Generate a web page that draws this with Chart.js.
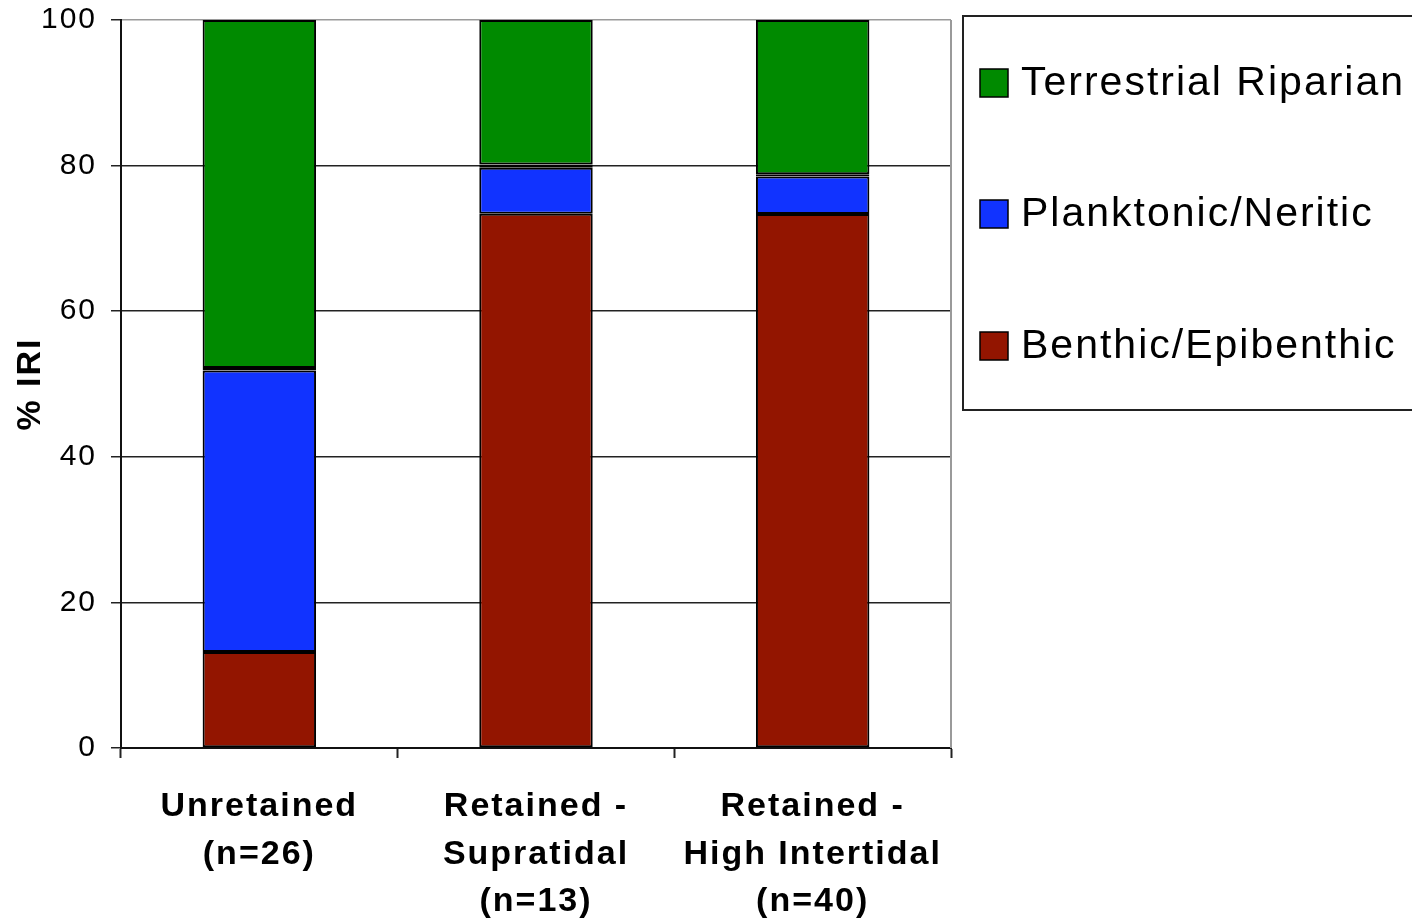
<!DOCTYPE html>
<html>
<head>
<meta charset="utf-8">
<script src="https://cdn.jsdelivr.net/npm/chart.js@4/dist/chart.umd.min.js"></script>
<style>
  html, body { margin: 0; padding: 0; background: #ffffff; }
  #wrap { width: 1412px; height: 920px; position: relative; }
</style>
</head>
<body>
<div id="wrap"><canvas id="chart" width="1412" height="920"></canvas></div>
<script>
// Habitat groups (multi-line category labels)
const categories = [
  ['Unretained', '(n=26)'],
  ['Retained -', 'Supratidal', '(n=13)'],
  ['Retained -', 'High Intertidal', '(n=40)']
];

// % IRI by prey origin, stacked bottom to top
const benthic     = [13.2, 73.4, 73.35];
const planktonic  = [38.65, 6.3, 5.15];
const minorGroup  = [0.35, 0.45, 0.3];
const terrestrial = [47.8, 19.85, 21.2];

const yTicks = [0, 20, 40, 60, 80, 100];

const FONT = "'Liberation Sans', Arial, sans-serif";

// Slightly spaced lettering for all chart text
const spacingPlugin = {
  id: 'letterSpacing',
  beforeDraw(chart) {
    chart.ctx.letterSpacing = '2px';
  }
};

// Boxed legend at the right, plus the light frame on the right edge of the plot
const framePlugin = {
  id: 'frameAndLegend',
  afterDraw(chart) {
    const { ctx, chartArea } = chart;
    ctx.save();
    ctx.strokeStyle = '#9a9a9a';
    ctx.lineWidth = 2;
    ctx.beginPath();
    ctx.moveTo(chartArea.right, chartArea.top);
    ctx.lineTo(chartArea.right, chartArea.bottom);
    ctx.stroke();

    // legend frame
    ctx.strokeStyle = '#222';
    ctx.lineWidth = 2;
    ctx.strokeRect(963, 16, 470, 394);

    const entries = chart.data.datasets.filter(d => d.inLegend).slice().reverse();
    const rowY = [83, 214, 346];
    ctx.letterSpacing = '2px';
    ctx.font = '41px ' + FONT;
    ctx.textBaseline = 'middle';
    ctx.textAlign = 'left';
    entries.forEach((d, i) => {
      const y = rowY[i];
      ctx.fillStyle = d.backgroundColor;
      ctx.fillRect(980, y - 14, 28, 28);
      ctx.strokeStyle = '#000';
      ctx.lineWidth = 1.5;
      ctx.strokeRect(980, y - 14, 28, 28);
      ctx.fillStyle = '#000';
      ctx.fillText(d.label, 1021, y + 1);
    });
    ctx.restore();
  }
};

const barStyle = {
  borderColor: '#000',
  borderWidth: 2,
  borderSkipped: false,
  barPercentage: 0.82,
  categoryPercentage: 0.5
};

new Chart(document.getElementById('chart'), {
  type: 'bar',
  data: {
    labels: categories,
    datasets: [
      Object.assign({ label: 'Benthic/Epibenthic', data: benthic, backgroundColor: '#931500', inLegend: true }, barStyle),
      Object.assign({ label: 'Planktonic/Neritic', data: planktonic, backgroundColor: '#1133ff', inLegend: true }, barStyle),
      Object.assign({ label: 'Unclassified', data: minorGroup, backgroundColor: '#11cc11', inLegend: false }, barStyle),
      Object.assign({ label: 'Terrestrial Riparian', data: terrestrial, backgroundColor: '#008a00', inLegend: true }, barStyle)
    ]
  },
  options: {
    responsive: false,
    animation: false,
    layout: { padding: { left: 0, top: 20, right: 461, bottom: 0 } },
    plugins: {
      legend: { display: false },
      tooltip: { enabled: false }
    },
    scales: {
      x: {
        stacked: true,
        offset: true,
        grid: {
          offset: true,
          drawOnChartArea: false,
          drawTicks: true,
          tickLength: 10,
          tickColor: '#222',
          tickWidth: 2
        },
        border: { color: '#111', width: 2 },
        ticks: {
          color: '#000',
          font: { family: FONT, size: 34, weight: 'bold', lineHeight: 1.4 },
          padding: 25,
          maxRotation: 0,
          autoSkip: false
        },
        afterFit(scale) {
          scale.height = 172;
          scale.paddingLeft = 0;
          scale.paddingRight = 0;
        }
      },
      y: {
        stacked: true,
        min: 0,
        max: 100,
        afterBuildTicks(scale) { scale.ticks = yTicks.map(v => ({ value: v })); },
        grid: {
          color: ctx => (ctx.tick && ctx.tick.value === 100 ? '#9a9a9a' : '#222'),
          lineWidth: 1.5,
          tickLength: 10,
          tickColor: '#222',
          tickWidth: 1.5
        },
        border: { color: '#111', width: 2 },
        ticks: {
          color: '#000',
          font: { family: FONT, size: 30 },
          padding: 14
        },
        title: {
          display: true,
          text: '% IRI',
          color: '#000',
          font: { family: FONT, size: 34, weight: 'bold' },
          padding: { top: 10, bottom: 0 }
        },
        afterFit(scale) {
          scale.width = 121;
          scale.paddingTop = 0;
          scale.paddingBottom = 0;
        }
      }
    }
  },
  plugins: [spacingPlugin, framePlugin]
});
</script>
</body>
</html>
